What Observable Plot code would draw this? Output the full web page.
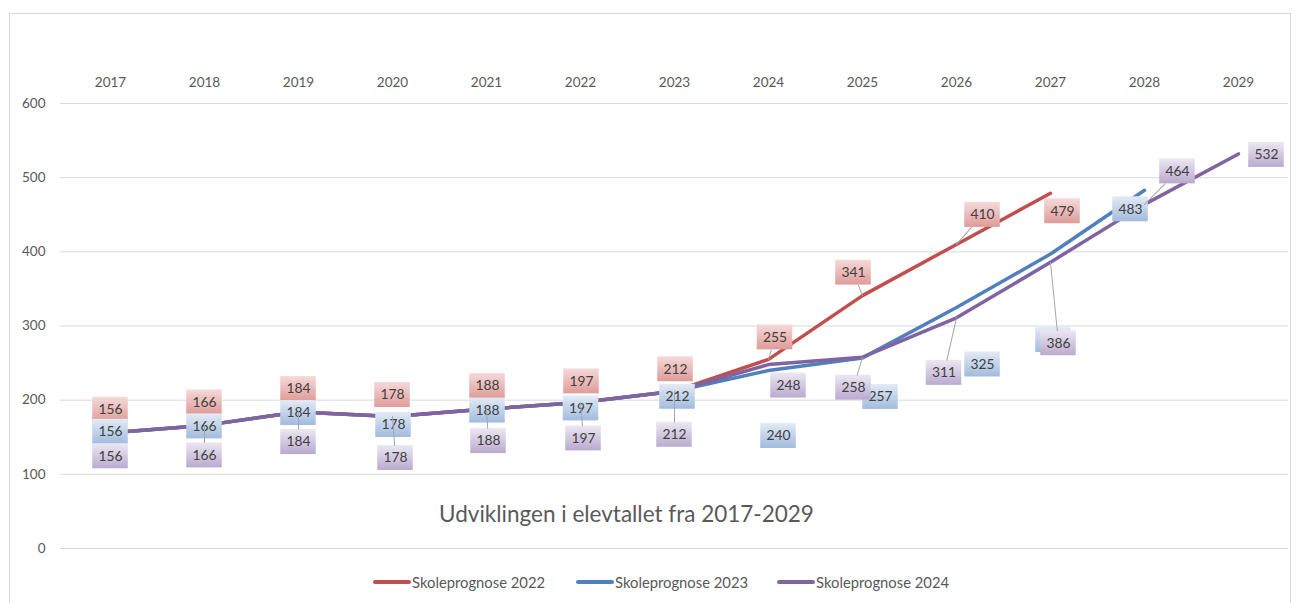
<!DOCTYPE html>
<html>
<head>
<meta charset="utf-8">
<script src="https://cdn.jsdelivr.net/npm/d3@7"></script>
<script src="https://cdn.jsdelivr.net/npm/@observablehq/plot@0.6"></script>
<style>
  html, body { margin: 0; padding: 0; background: #ffffff; }
  #wrap { position: relative; width: 1296px; height: 603px; overflow: hidden; background: #fff; font-family: Lato, "Open Sans", sans-serif; }
  #frame { position: absolute; left: 9px; top: 13px; width: 1280px; height: 620px; border: 1px solid #d9d9d9; pointer-events: none; }
  .lg { position: absolute; top: 572px; height: 20px; display: flex; align-items: center; color: #595959; font-size: 14.8px; white-space: nowrap; }
  .lg span.sw { display: inline-block; width: 38px; height: 3.5px; border-radius: 2px; margin-right: 1px; }
</style>
</head>
<body>
<div id="wrap">
  <div id="chart"></div>
  <div id="frame"></div>
  <div id="legend"></div>
</div>
<script>
// ---- data ----
const years = ["2017","2018","2019","2020","2021","2022","2023","2024","2025","2026","2027","2028","2029"];
const prognose2022 = [156,166,184,178,188,197,212,255,341,410,479];
const prognose2023 = [156,166,184,178,188,197,212,240,257,325,397,483];
const prognose2024 = [156,166,184,178,188,197,212,248,258,311,386,464,532];
const yTicks = [0,100,200,300,400,500,600];
const seriesNames = ["Skoleprognose 2022","Skoleprognose 2023","Skoleprognose 2024"];
const chartTitle = "Udviklingen i elevtallet fra 2017-2029";

// ---- label placement (pixel nudges [dx, dy, leader, textHiddenBehindAnotherLabel]) ----
const labelNudge2022 = [[0,-23,0],[0,-23,0],[0,-23,0],[0,-21.5,0],[1,-23,0],[1,-21,0],[1,-22,0],[6.5,-22,1],[-9,-23,1],[26,-29.5,1],[12,18,0]];
const labelNudge2023 = [[0,-1,0],[0,1,0],[0,1,0],[1,8.5,0],[1,1.5,0],[0.5,6,0],[3,5.5,0],[10,65.5,0],[18,39,0],[26,57,0],[3,86,0,1],[-14,19,0]];
const labelNudge2024 = [[0,23.5,0],[0,30,1],[0,30,1],[3,41.5,1],[2,32,1],[3,36,1],[0,43.5,1],[20,21,0],[-9,30.5,1],[-12.5,55,1],[8,81,1],[33,-33,1],[28,1,0]];

const colors = ["#c0504d","#4f81bd","#8064a2"];
const gradients = [
  {id: "gRed", top: "#f5dad9", bottom: "#df9b99"},
  {id: "gBlue", top: "#e3ebf5", bottom: "#a1bbde"},
  {id: "gPurple", top: "#ece8f2", bottom: "#baaace"}
];

const series = [
  {name: seriesNames[0], values: prognose2022, nudge: labelNudge2022},
  {name: seriesNames[1], values: prognose2023, nudge: labelNudge2023},
  {name: seriesNames[2], values: prognose2024, nudge: labelNudge2024}
].map((s, k) => ({...s, color: colors[k], grad: gradients[k].id,
  rows: s.values.map((v, i) => ({year: years[i], value: v}))}));

// ---- layout ----
const W = 1296, H = 603;
const mL = 60, mR = 8, mT = 103, mB = 55;
const bw = (W - mL - mR) / years.length;
const boxW = 36, boxH = 25;
const inX = (bw - boxW) / 2;

const lineMarks = series.map(s => Plot.line(s.rows, {
  x: "year", y: "value", stroke: s.color, strokeWidth: 3.5,
  strokeLinecap: "round", strokeLinejoin: "round"
}));

const labelMarks = series.flatMap(s => s.rows.flatMap((r, i) => {
  const [dx, dy, , hidden] = s.nudge[i];
  const d = [r];
  const out = [
    Plot.barY(d, {x: "year", y1: "value", y2: "value",
      insetLeft: inX, insetRight: inX, insetTop: -boxH / 2, insetBottom: -boxH / 2,
      dx, dy, fill: `url(#${s.grad})`})
  ];
  if (!hidden) out.push(Plot.text(d, {x: "year", y: "value", text: q => String(q.value),
      dx, dy, fill: "#404040", fontSize: 13.8}));
  return out;
}));

const leaderMarks = series.flatMap(s => s.rows.flatMap((r, i) => {
  const [dx, dy, lead] = s.nudge[i];
  if (!lead) return [];
  const L = Math.hypot(dx, dy);
  const t = Math.min(dx ? (boxW / 2) / Math.abs(dx) : Infinity, dy ? (boxH / 2) / Math.abs(dy) : Infinity);
  const len = L * (1 - t);
  if (len <= 0) return [];
  const ang = Math.atan2(dx, -dy) * 180 / Math.PI;
  return [Plot.vector([r], {x: "year", y: "value", length: len, rotate: ang, anchor: "start",
    shape: "spike", r: 0, stroke: "#a6a6a6", strokeWidth: 1, fill: "none"})];
}));

const svg = Plot.plot({
  width: W, height: H,
  marginLeft: mL, marginRight: mR, marginTop: mT, marginBottom: mB,
  style: {fontFamily: "Lato, 'Open Sans', sans-serif", fontSize: "13.5px", color: "#595959", background: "transparent"},
  x: {type: "band", domain: years, padding: 0, axis: null},
  y: {domain: [0, 600], axis: null},
  marks: [
    Plot.gridY(yTicks, {stroke: "#d9d9d9", strokeOpacity: 1, strokeWidth: 1}),
    Plot.axisY(yTicks, {tickSize: 0, tickPadding: 15, label: null, fill: "#595959"}),
    Plot.axisX({anchor: "top", tickSize: 0, tickPadding: 17, label: null, fill: "#595959"}),
    Plot.text([chartTitle], {text: d => d, frameAnchor: "bottom", dx: -48, dy: -27, fontSize: 22.5, fill: "#595959"}),
    ...lineMarks,
    ...labelMarks,
    ...leaderMarks
  ]
});

const defs = d3.select(svg).insert("defs", ":first-child");
for (const g of gradients) {
  const lg = defs.append("linearGradient").attr("id", g.id).attr("x1", 0).attr("y1", 0).attr("x2", 0).attr("y2", 1);
  lg.append("stop").attr("offset", "0%").attr("stop-color", g.top);
  lg.append("stop").attr("offset", "100%").attr("stop-color", g.bottom);
}
document.getElementById("chart").appendChild(svg);

// ---- legend ----
const legendLeft = [373, 576, 777];
const legend = document.getElementById("legend");
series.forEach((s, k) => {
  const item = document.createElement("div");
  item.className = "lg";
  item.style.left = legendLeft[k] + "px";
  const sw = document.createElement("span");
  sw.className = "sw";
  sw.style.background = s.color;
  item.appendChild(sw);
  item.appendChild(document.createTextNode(s.name));
  legend.appendChild(item);
});
</script>
</body>
</html>
